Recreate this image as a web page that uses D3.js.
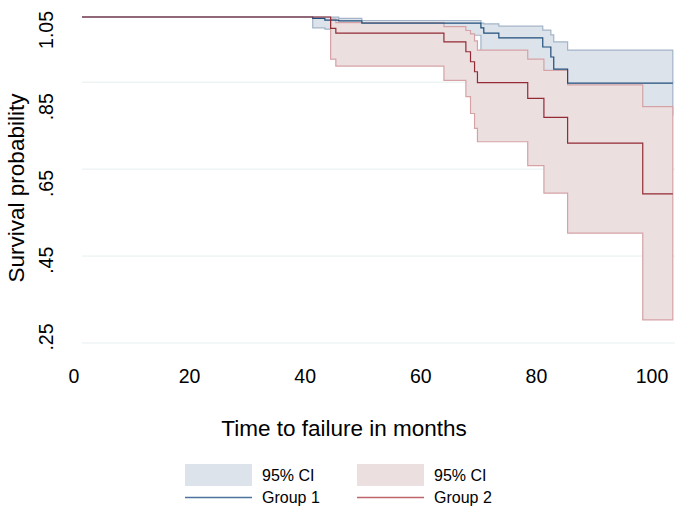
<!DOCTYPE html>
<html>
<head>
    <script src="https://cdnjs.cloudflare.com/ajax/libs/d3/7.8.5/d3.min.js"></script>
    <style>
        body { margin: 0; background: #fff; }
        svg { font-family: Arial, "Liberation Sans", sans-serif; }
    </style>
</head>
<body>
    <div id="chart"></div>

    <script>
        // Group 1 (Kaplan-Meier estimate with 95% CI)
        const g1Time = [0, 41.3, 43.4, 45.8, 49.8, 70.4, 70.9, 73.5, 81.1, 82.5, 83.0, 85.4, 103.6];
        const g1Surv = [1, 0.997, 0.993, 0.991, 0.986, 0.975, 0.963, 0.952, 0.931, 0.908, 0.880, 0.848, 0.848];
        const g1CiTime = [41.3, 43.4, 45.8, 49.8, 70.4, 70.9, 73.5, 81.1, 82.5, 83.0, 85.4, 103.6];
        const g1Hi = [0.9995, 0.9995, 0.997, 0.992, 0.986, 0.984, 0.979, 0.970, 0.959, 0.943, 0.924, 0.924];
        const g1Lo = [0.975, 0.972, 0.965, 0.958, 0.918, 0.905, 0.892, 0.868, 0.840, 0.810, 0.775, 0.775];

        // Group 2
        const g2Time = [0, 44.4, 45.3, 64.0, 67.8, 68.6, 69.3, 69.8, 78.5, 81.3, 85.4, 98.4, 103.6];
        const g2Surv = [1, 0.974, 0.963, 0.943, 0.920, 0.897, 0.874, 0.849, 0.813, 0.769, 0.710, 0.593, 0.593];
        const g2CiTime = [44.4, 45.3, 64.0, 67.8, 68.6, 69.3, 69.8, 78.5, 81.3, 85.4, 98.4, 103.6];
        const g2Hi = [0.995, 0.987, 0.978, 0.969, 0.961, 0.945, 0.924, 0.903, 0.877, 0.844, 0.794, 0.794];
        const g2Lo = [0.903, 0.887, 0.854, 0.817, 0.778, 0.744, 0.713, 0.658, 0.595, 0.503, 0.303, 0.303];

        const xTicks = [0, 20, 40, 60, 80, 100];
        const yGrid = [0.85, 0.65, 0.45, 0.25];
        const yTickLabels = [1.05, 0.85, 0.65, 0.45, 0.25];

        const width = 675, height = 514;
        const plotLeft = 82, plotRight = 675, plotTop = 0, plotBottom = 360;

        const svg = d3.select("#chart").append("svg")
            .attr("width", width)
            .attr("height", height);

        const x = d3.scaleLinear().domain([0, 100]).range([74, 652]);
        const y = d3.scaleLinear().domain([0.25, 1]).range([343, 17]);
        // tick labels sit on their own spacing in the original
        const yLab = d3.scaleLinear().domain([0.25, 1.05]).range([337, 30]);

        svg.append("clipPath").attr("id", "plotclip")
            .append("rect")
            .attr("x", plotLeft).attr("y", plotTop)
            .attr("width", plotRight - plotLeft).attr("height", plotBottom - plotTop);

        // gridlines
        svg.append("g").selectAll("line")
            .data(yGrid)
            .join("line")
            .attr("x1", plotLeft).attr("x2", plotRight)
            .attr("y1", d => y(d)).attr("y2", d => y(d))
            .attr("stroke", "#e6eff0")
            .attr("stroke-width", 1);

        const plot = svg.append("g").attr("clip-path", "url(#plotclip)");

        function ciArea(times, lo, hi) {
            return d3.area()
                .curve(d3.curveStepAfter)
                .x((d, i) => x(times[i]))
                .y0((d, i) => y(lo[i]))
                .y1((d, i) => y(hi[i]))(times);
        }
        function survLine(times, surv) {
            return d3.line()
                .curve(d3.curveStepAfter)
                .x((d, i) => x(times[i]))
                .y((d, i) => y(surv[i]))(times);
        }

        plot.append("path")
            .attr("d", ciArea(g1CiTime, g1Lo, g1Hi))
            .attr("fill", "#dce3eb")
            .attr("stroke", "#a3b4c8")
            .attr("stroke-width", 1.2);
        plot.append("path")
            .attr("d", ciArea(g2CiTime, g2Lo, g2Hi))
            .attr("fill", "#ecdfe0")
            .attr("stroke", "#d5a2a6")
            .attr("stroke-width", 1.2);

        plot.append("path")
            .attr("d", survLine(g1Time, g1Surv))
            .attr("fill", "none")
            .attr("stroke", "#1f4e7a")
            .attr("stroke-width", 1.2);
        plot.append("path")
            .attr("d", survLine(g2Time, g2Surv))
            .attr("fill", "none")
            .attr("stroke", "#922b35")
            .attr("stroke-width", 1.2);

        // x axis labels
        svg.append("g").selectAll("text")
            .data(xTicks)
            .join("text")
            .attr("x", d => x(d))
            .attr("y", 383)
            .attr("text-anchor", "middle")
            .attr("font-size", "19.5px")
            .attr("fill", "#000")
            .text(d => d);

        // y axis labels (rotated)
        const fmt = d => d >= 1 ? d.toFixed(2) : d.toFixed(2).replace(/^0/, "");
        svg.append("g").selectAll("text")
            .data(yTickLabels)
            .join("text")
            .attr("transform", d => `translate(53, ${yLab(d)}) rotate(-90)`)
            .attr("text-anchor", "middle")
            .attr("font-size", "19.5px")
            .attr("fill", "#000")
            .text(fmt);

        svg.append("text")
            .attr("x", 344)
            .attr("y", 436)
            .attr("text-anchor", "middle")
            .attr("font-size", "22.5px")
            .text("Time to failure in months");

        svg.append("text")
            .attr("transform", "translate(24, 188) rotate(-90)")
            .attr("text-anchor", "middle")
            .attr("font-size", "22.5px")
            .text("Survival probability");

        // legend
        const legendItems = [
            { kind: "area", color: "#dce3eb", label: "95% CI", col: 0, row: 0 },
            { kind: "area", color: "#ecdfe0", label: "95% CI", col: 1, row: 0 },
            { kind: "line", color: "#4d74a0", label: "Group 1", col: 0, row: 1 },
            { kind: "line", color: "#c0646c", label: "Group 2", col: 1, row: 1 }
        ];
        const legend = svg.append("g");
        legendItems.forEach(it => {
            const lx = 185 + it.col * 172;
            const rowY = 475 + it.row * 22;
            if (it.kind === "area") {
                legend.append("rect")
                    .attr("x", lx).attr("y", rowY - 11)
                    .attr("width", 67).attr("height", 22)
                    .attr("fill", it.color);
            } else {
                legend.append("line")
                    .attr("x1", lx).attr("x2", lx + 67)
                    .attr("y1", rowY + 0.5).attr("y2", rowY + 0.5)
                    .attr("stroke", it.color)
                    .attr("stroke-width", 1.3);
            }
            legend.append("text")
                .attr("x", lx + 77)
                .attr("y", rowY + 6)
                .attr("font-size", "16px")
                .text(it.label);
        });
    </script>
</body>
</html>
